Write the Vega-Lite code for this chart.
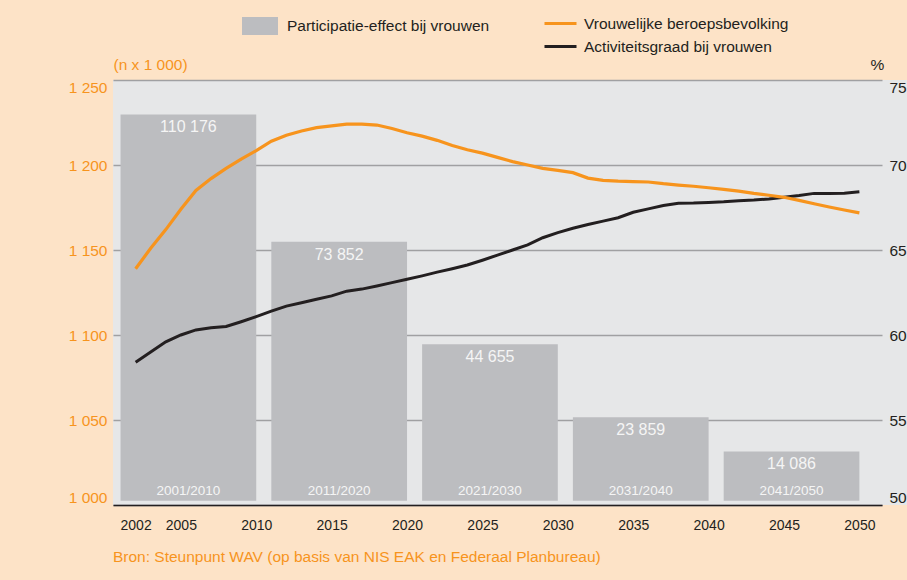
{
  "$schema": "https://vega.github.io/schema/vega-lite/v6.json",
  "width": 794,
  "height": 425,
  "autosize": "none",
  "padding": {"left": 113, "top": 80, "right": 0, "bottom": 75},
  "background": "#fde3c7",
  "title": {
    "text": "Bron: Steunpunt WAV (op basis van NIS EAK en Federaal Planbureau)",
    "orient": "bottom",
    "anchor": "start",
    "frame": "group",
    "offset": 18,
    "color": "#f7941d",
    "fontSize": 15.5,
    "fontWeight": "normal"
  },
  "config": {
    "font": "Liberation Sans, Arial, sans-serif",
    "view": {"fill": "#e6e7e8", "stroke": null},
    "locale": {"number": {"decimal": ",", "thousands": " ", "grouping": [3], "currency": ["€", ""]}}
  },
  "datasets": {
    "bars": [
      {"period": "2001/2010", "start": 2001, "end": 2010, "value": 110176},
      {"period": "2011/2020", "start": 2011, "end": 2020, "value": 73852},
      {"period": "2021/2030", "start": 2021, "end": 2030, "value": 44655},
      {"period": "2031/2040", "start": 2031, "end": 2040, "value": 23859},
      {"period": "2041/2050", "start": 2041, "end": 2050, "value": 14086}
    ],
    "lines": [
      {"year": 2002, "beroepsbevolking": 1139, "activiteitsgraad": 58.4},
      {"year": 2003, "beroepsbevolking": 1151, "activiteitsgraad": 59.0},
      {"year": 2004, "beroepsbevolking": 1162, "activiteitsgraad": 59.6},
      {"year": 2005, "beroepsbevolking": 1174, "activiteitsgraad": 60.0},
      {"year": 2006, "beroepsbevolking": 1185, "activiteitsgraad": 60.3},
      {"year": 2007, "beroepsbevolking": 1192, "activiteitsgraad": 60.42},
      {"year": 2008, "beroepsbevolking": 1198, "activiteitsgraad": 60.5},
      {"year": 2009, "beroepsbevolking": 1203.5, "activiteitsgraad": 60.78},
      {"year": 2010, "beroepsbevolking": 1208.5, "activiteitsgraad": 61.08},
      {"year": 2011, "beroepsbevolking": 1214, "activiteitsgraad": 61.4},
      {"year": 2012, "beroepsbevolking": 1217.5, "activiteitsgraad": 61.7},
      {"year": 2013, "beroepsbevolking": 1220, "activiteitsgraad": 61.9},
      {"year": 2014, "beroepsbevolking": 1222, "activiteitsgraad": 62.1},
      {"year": 2015, "beroepsbevolking": 1223, "activiteitsgraad": 62.3},
      {"year": 2016, "beroepsbevolking": 1224, "activiteitsgraad": 62.58},
      {"year": 2017, "beroepsbevolking": 1224, "activiteitsgraad": 62.7},
      {"year": 2018, "beroepsbevolking": 1223.5, "activiteitsgraad": 62.88},
      {"year": 2019, "beroepsbevolking": 1221.5, "activiteitsgraad": 63.08},
      {"year": 2020, "beroepsbevolking": 1219, "activiteitsgraad": 63.28},
      {"year": 2021, "beroepsbevolking": 1217, "activiteitsgraad": 63.48},
      {"year": 2022, "beroepsbevolking": 1214.5, "activiteitsgraad": 63.7},
      {"year": 2023, "beroepsbevolking": 1211.5, "activiteitsgraad": 63.9},
      {"year": 2024, "beroepsbevolking": 1209, "activiteitsgraad": 64.12},
      {"year": 2025, "beroepsbevolking": 1207, "activiteitsgraad": 64.4},
      {"year": 2026, "beroepsbevolking": 1204.5, "activiteitsgraad": 64.7},
      {"year": 2027, "beroepsbevolking": 1202, "activiteitsgraad": 65.0},
      {"year": 2028, "beroepsbevolking": 1200, "activiteitsgraad": 65.3},
      {"year": 2029, "beroepsbevolking": 1198, "activiteitsgraad": 65.72},
      {"year": 2030, "beroepsbevolking": 1196.8, "activiteitsgraad": 66.02},
      {"year": 2031, "beroepsbevolking": 1195.5, "activiteitsgraad": 66.28},
      {"year": 2032, "beroepsbevolking": 1192.3, "activiteitsgraad": 66.5},
      {"year": 2033, "beroepsbevolking": 1191, "activiteitsgraad": 66.7},
      {"year": 2034, "beroepsbevolking": 1190.5, "activiteitsgraad": 66.9},
      {"year": 2035, "beroepsbevolking": 1190.2, "activiteitsgraad": 67.22},
      {"year": 2036, "beroepsbevolking": 1190, "activiteitsgraad": 67.42},
      {"year": 2037, "beroepsbevolking": 1189, "activiteitsgraad": 67.62},
      {"year": 2038, "beroepsbevolking": 1188.2, "activiteitsgraad": 67.75},
      {"year": 2039, "beroepsbevolking": 1187.5, "activiteitsgraad": 67.76},
      {"year": 2040, "beroepsbevolking": 1186.6, "activiteitsgraad": 67.8},
      {"year": 2041, "beroepsbevolking": 1185.7, "activiteitsgraad": 67.84},
      {"year": 2042, "beroepsbevolking": 1184.6, "activiteitsgraad": 67.9},
      {"year": 2043, "beroepsbevolking": 1183.3, "activiteitsgraad": 67.94},
      {"year": 2044, "beroepsbevolking": 1182.2, "activiteitsgraad": 68.0},
      {"year": 2045, "beroepsbevolking": 1181, "activiteitsgraad": 68.1},
      {"year": 2046, "beroepsbevolking": 1179.2, "activiteitsgraad": 68.2},
      {"year": 2047, "beroepsbevolking": 1177.2, "activiteitsgraad": 68.33},
      {"year": 2048, "beroepsbevolking": 1175.3, "activiteitsgraad": 68.33},
      {"year": 2049, "beroepsbevolking": 1173.5, "activiteitsgraad": 68.34},
      {"year": 2050, "beroepsbevolking": 1171.8, "activiteitsgraad": 68.42}
    ]
  },
  "layer": [
    {
      "data": {"name": "bars"},
      "layer": [
        {
          "mark": {"type": "bar", "orient": "vertical"},
          "encoding": {
            "x": {
              "field": "start", "type": "quantitative",
              "scale": {"domain": [2000.5, 2051.5], "range": [0, 769], "nice": false, "zero": false, "padding": 0},
              "axis": {
                "orient": "bottom", "title": null, "values": [2002, 2005, 2010, 2015, 2020, 2025, 2030, 2035, 2040, 2045, 2050],
                "format": "d", "grid": false, "ticks": false, "domain": true, "domainColor": "#231f20", "domainWidth": 1.5,
                "labelFontSize": 14, "labelColor": "#231f20", "labelPadding": 13
              }
            },
            "x2": {"field": "end"},
            "y": {"field": "value", "type": "quantitative", "scale": {"domain": [-1200, 120000], "nice": false, "padding": 0}, "axis": null},
            "y2": {"datum": 0},
            "fill": {
              "datum": "Participatie-effect bij vrouwen", "type": "nominal",
              "scale": {"domain": ["Participatie-effect bij vrouwen"], "range": ["#bcbdc0"]},
              "legend": {
                "orient": "none", "legendX": 137, "legendY": -64, "title": null, "padding": 0,
                "symbolType": "M-1.8,-0.9H1.8V0.9H-1.8Z", "symbolSize": 400, "symbolStrokeWidth": 0,
                "labelOffset": 17, "labelFontSize": 15.5, "labelColor": "#231f20", "labelLimit": 400
              }
            }
          }
        },
        {
          "transform": [
            {"fold": ["start", "end"], "as": ["edge", "yr"]},
            {"aggregate": [{"op": "mean", "field": "yr", "as": "mid"}, {"op": "max", "field": "value", "as": "value"}], "groupby": ["period"]}
          ],
          "mark": {"type": "text", "color": "#f5f5f5", "baseline": "middle", "dy": 13, "fontSize": 16},
          "encoding": {
            "x": {"field": "mid", "type": "quantitative"},
            "y": {"field": "value", "type": "quantitative"},
            "text": {"field": "value", "type": "quantitative", "format": ",d"}
          }
        },
        {
          "transform": [
            {"fold": ["start", "end"], "as": ["edge", "yr"]},
            {"aggregate": [{"op": "mean", "field": "yr", "as": "mid"}], "groupby": ["period"]}
          ],
          "mark": {"type": "text", "color": "#f5f5f5", "baseline": "middle", "dy": -10, "fontSize": 13.5},
          "encoding": {
            "x": {"field": "mid", "type": "quantitative"},
            "y": {"datum": 0, "type": "quantitative"},
            "text": {"field": "period", "type": "nominal"}
          }
        }
      ]
    },
    {
      "data": {"name": "lines"},
      "mark": {"type": "line", "strokeWidth": 3},
      "encoding": {
        "x": {"field": "year", "type": "quantitative"},
        "y": {
          "field": "activiteitsgraad", "type": "quantitative",
          "scale": {"domain": [50, 75], "nice": false, "zero": false},
          "axis": {
            "orient": "right", "offset": -25, "values": [50, 55, 60, 65, 70, 75], "grid": false, "ticks": false, "domain": false,
            "labelFlush": true, "labelPadding": 7, "labelFontSize": 15.5, "labelColor": "#231f20",
            "title": "%", "titleAngle": 0, "titleAlign": "center", "titleBaseline": "middle", "titleX": -5, "titleY": -16,
            "titleFontSize": 15.5, "titleFontWeight": "normal", "titleColor": "#231f20"
          }
        },
        "stroke": {
          "datum": "Activiteitsgraad bij vrouwen", "type": "nominal",
          "scale": {"domain": ["Vrouwelijke beroepsbevolking", "Activiteitsgraad bij vrouwen"], "range": ["#f7941d", "#231f20"]},
          "legend": {
            "orient": "none", "legendX": 436, "legendY": -68, "title": null, "padding": 0, "rowPadding": 3,
            "symbolType": "M-1.6,0H1.6", "symbolSize": 400, "symbolStrokeWidth": 3,
            "labelOffset": 12, "labelFontSize": 15.5, "labelColor": "#231f20", "labelLimit": 400
          }
        }
      }
    },
    {
      "data": {"name": "lines"},
      "mark": {"type": "line", "strokeWidth": 3.2},
      "encoding": {
        "x": {"field": "year", "type": "quantitative"},
        "y": {
          "field": "beroepsbevolking", "type": "quantitative",
          "scale": {"domain": [1000, 1250], "nice": false, "zero": false},
          "axis": {
            "orient": "left", "values": [1000, 1050, 1100, 1150, 1200, 1250], "grid": true, "gridColor": "#a0a0a2", "gridWidth": 1.5,
            "ticks": false, "domain": false, "labelFlush": true, "labelPadding": 6, "labelFontSize": 15.5, "labelColor": "#f7941d",
            "title": "(n x 1 000)", "titleAngle": 0, "titleAlign": "left", "titleBaseline": "middle", "titleX": 0, "titleY": -16,
            "titleFontSize": 15.5, "titleFontWeight": "normal", "titleColor": "#f7941d"
          }
        },
        "stroke": {
          "datum": "Vrouwelijke beroepsbevolking", "type": "nominal",
          "scale": {"domain": ["Vrouwelijke beroepsbevolking", "Activiteitsgraad bij vrouwen"], "range": ["#f7941d", "#231f20"]},
          "legend": {
            "orient": "none", "legendX": 436, "legendY": -68, "title": null, "padding": 0, "rowPadding": 3,
            "symbolType": "M-1.6,0H1.6", "symbolSize": 400, "symbolStrokeWidth": 3,
            "labelOffset": 12, "labelFontSize": 15.5, "labelColor": "#231f20", "labelLimit": 400
          }
        }
      }
    }
  ],
  "resolve": {"scale": {"y": "independent"}, "axis": {"y": "independent"}}
}
